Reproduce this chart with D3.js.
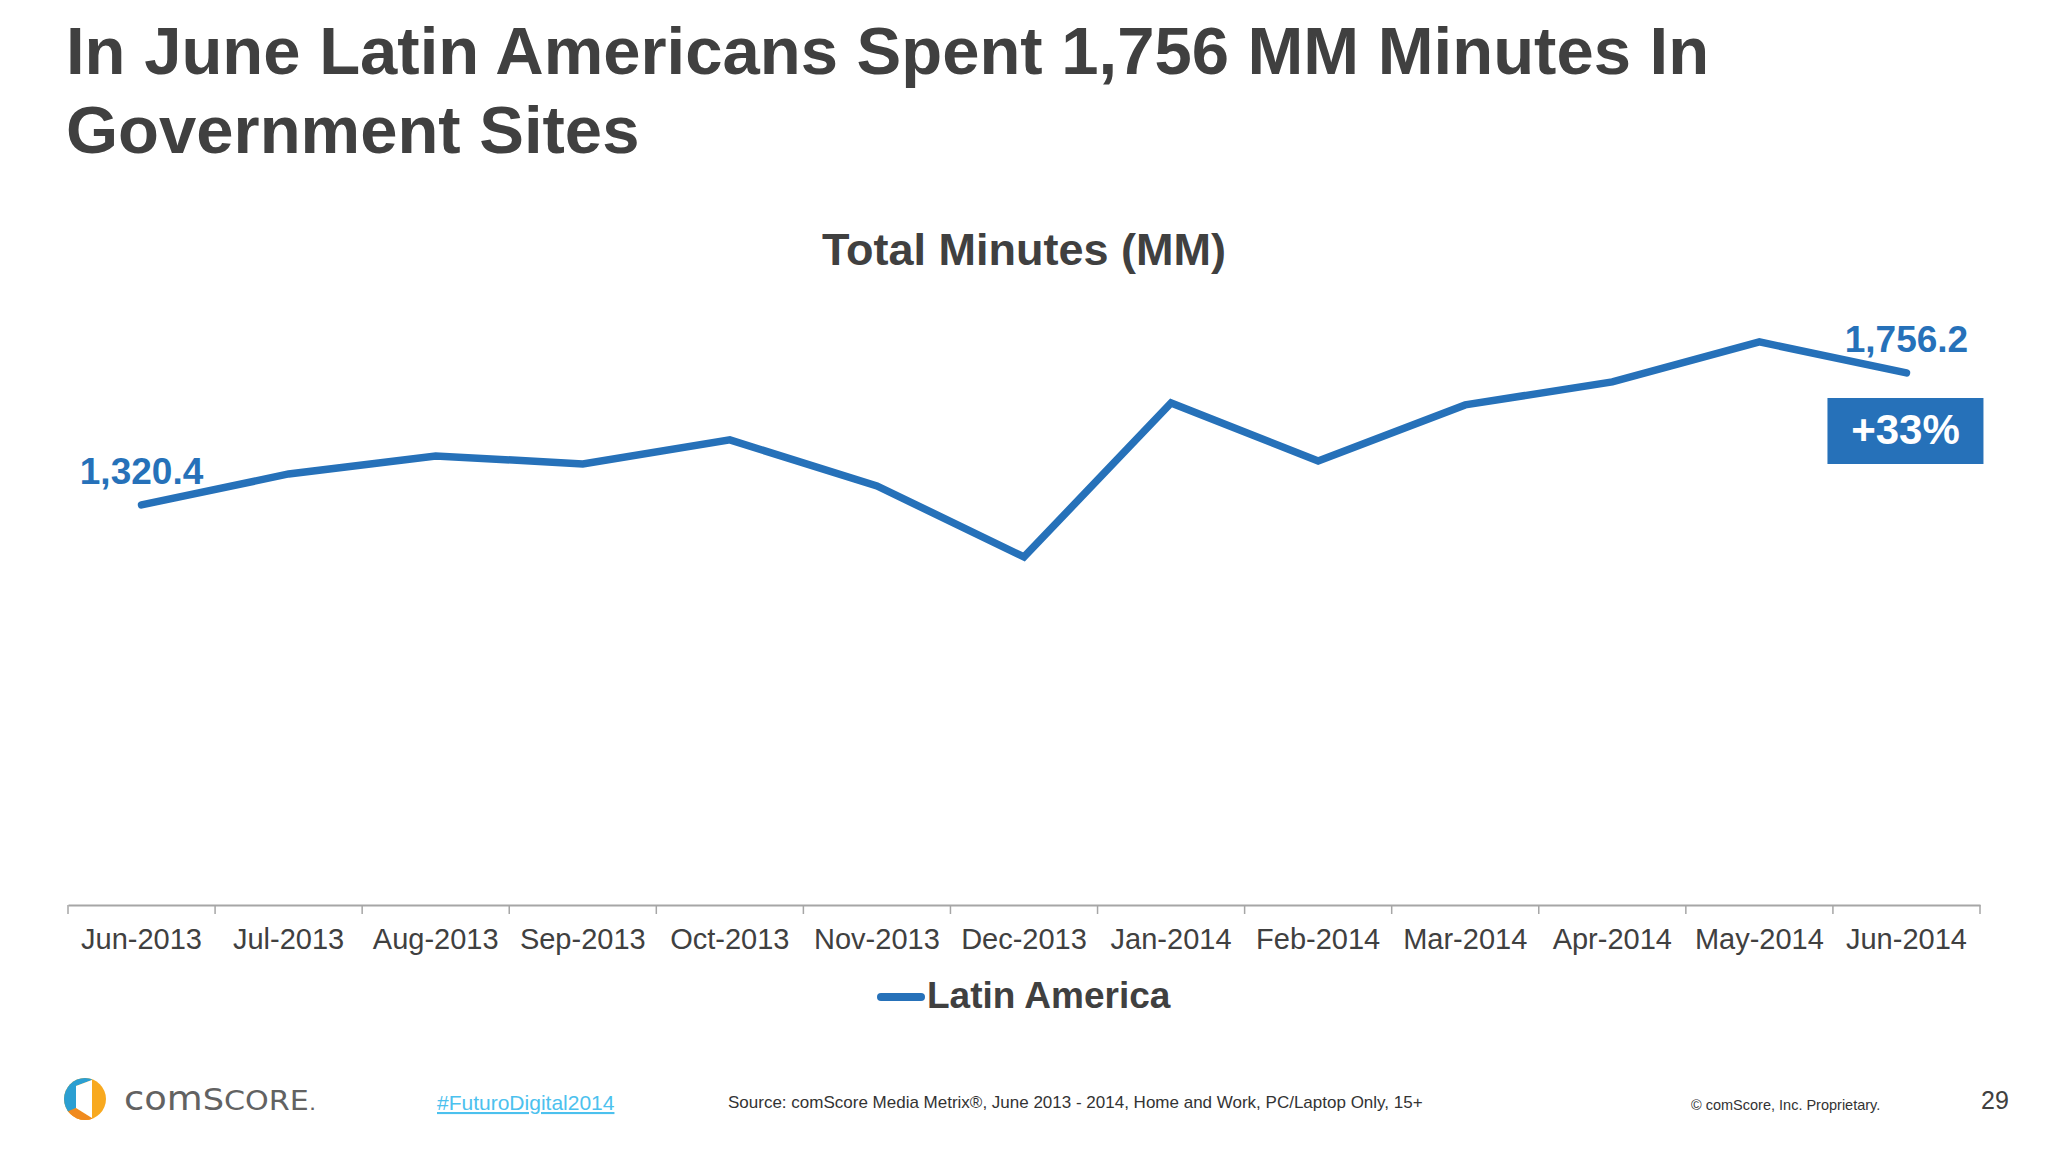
<!DOCTYPE html>
<html>
<head>
<meta charset="utf-8">
<script src="https://cdn.jsdelivr.net/npm/d3@7"></script>
<style>
  html, body { margin: 0; padding: 0; background: #ffffff; }
  svg { display: block; font-family: "Liberation Sans", Arial, sans-serif; }
</style>
</head>
<body>
<svg id="chart" width="2048" height="1152"></svg>
<script>
// ---- data ----
const categories = ["Jun-2013","Jul-2013","Aug-2013","Sep-2013","Oct-2013","Nov-2013","Dec-2013",
                    "Jan-2014","Feb-2014","Mar-2014","Apr-2014","May-2014","Jun-2014"];
const seriesName = "Latin America";
const totalMinutes = [1320.4, 1422.7, 1482.1, 1455.7, 1535.0, 1383.1, 1148.7,
                      1657.1, 1465.6, 1650.5, 1726.4, 1858.5, 1756.2];
const yDomain = [0, 2000];
const titleLines = ["In June Latin Americans Spent 1,756 MM Minutes In", "Government Sites"];
const chartTitle = "Total Minutes (MM)";
const changeLabel = "+33%";

// ---- setup ----
const svg = d3.select("#chart");
const blue = "#2671b9";
const dark = "#404040";
const font = "'Liberation Sans', Arial, sans-serif";

svg.append("rect").attr("width", 2048).attr("height", 1152).attr("fill", "#ffffff");

// Title
svg.append("g").selectAll("text").data(titleLines).join("text")
  .attr("x", 66).attr("y", (d, i) => 74 + i * 79)
  .attr("font-size", 67).attr("font-weight", "bold").attr("fill", dark)
  .text(d => d);

// Chart title
svg.append("text").attr("x", 1024).attr("y", 265).attr("text-anchor", "middle")
  .attr("font-size", 45).attr("font-weight", "bold").attr("fill", dark)
  .text(chartTitle);

// Scales
const x = d3.scaleBand().domain(categories).range([68, 1980]).padding(0);
const y = d3.scaleLinear().domain(yDomain).range([905, 299]);
const cx = d => x(d) + x.bandwidth() / 2;

// Axis
const axis = d3.axisBottom(x).tickSizeInner(0).tickSizeOuter(0).tickPadding(0);
const gAxis = svg.append("g").attr("transform", `translate(0,${y(0)})`).call(axis);
gAxis.select(".domain").attr("stroke", "#a6a6a6").attr("stroke-width", 2);
gAxis.selectAll(".tick text")
  .attr("y", 44).attr("dy", null)
  .attr("font-size", 29).attr("font-family", font).attr("fill", dark);
// boundary ticks (Excel style: between categories)
const boundaries = categories.map(c => x(c)).concat([x.range()[1]]);
gAxis.append("g").selectAll("line").data(boundaries).join("line")
  .attr("x1", d => d).attr("x2", d => d).attr("y1", 0).attr("y2", 9)
  .attr("stroke", "#a6a6a6").attr("stroke-width", 1.5);

// Line
const line = d3.line().x((d, i) => cx(categories[i])).y(d => y(d));
svg.append("path").datum(totalMinutes)
  .attr("d", line).attr("fill", "none").attr("stroke", blue)
  .attr("stroke-width", 7.5).attr("stroke-linecap", "round").attr("stroke-linejoin", "miter");

// Data labels (first and last)
const fmt = d3.format(",.1f");
const n = totalMinutes.length;
svg.append("text").attr("x", cx(categories[0])).attr("y", y(totalMinutes[0]) - 21)
  .attr("text-anchor", "middle").attr("font-size", 37).attr("font-weight", "bold").attr("fill", blue)
  .text(fmt(totalMinutes[0]));
svg.append("text").attr("x", cx(categories[n - 1])).attr("y", y(totalMinutes[n - 1]) - 21)
  .attr("text-anchor", "middle").attr("font-size", 37).attr("font-weight", "bold").attr("fill", blue)
  .text(fmt(totalMinutes[n - 1]));

// +33% box
const bx = cx(categories[n - 1]);
svg.append("rect").attr("x", bx - 79).attr("y", 398).attr("width", 156).attr("height", 66).attr("fill", blue);
svg.append("text").attr("x", bx - 1).attr("y", 444).attr("text-anchor", "middle")
  .attr("font-size", 42).attr("font-weight", "bold").attr("fill", "#ffffff")
  .text(changeLabel);

// Legend
const lg = svg.append("g");
lg.append("line").attr("x1", 881).attr("x2", 921).attr("y1", 997).attr("y2", 997)
  .attr("stroke", blue).attr("stroke-width", 8).attr("stroke-linecap", "round");
lg.append("text").attr("x", 927).attr("y", 1008)
  .attr("font-size", 37).attr("font-weight", "bold").attr("fill", dark)
  .text(seriesName);

// Footer: logo
const defs = svg.append("defs");
defs.append("clipPath").attr("id", "logoClip")
  .append("circle").attr("cx", 85).attr("cy", 1099).attr("r", 21);
const logo = svg.append("g");
logo.append("circle").attr("cx", 85).attr("cy", 1099).attr("r", 21).attr("fill", "#f8a91f");
logo.append("path").attr("clip-path", "url(#logoClip)")
  .attr("d", "M50,1110 L50,1070 L86,1070 L92,1080 L76,1086 L76,1108 L66,1114 Z")
  .attr("fill", "#2b9fd2");
logo.append("path").attr("clip-path", "url(#logoClip)")
  .attr("d", "M50,1130 L50,1106 L66,1112 L76,1108 L92,1118 L92,1130 Z")
  .attr("fill", "#f08a1e");
logo.append("path").attr("d", "M76,1086 L92,1080 L92,1118 L76,1108 Z").attr("fill", "#ffffff");
const lt = svg.append("text").attr("x", 124).attr("y", 1110).attr("fill", "#626262")
  .attr("font-family", "'DejaVu Sans', sans-serif").attr("font-weight", "normal")
  .attr("textLength", 192).attr("lengthAdjust", "spacingAndGlyphs");
lt.append("tspan").attr("font-size", 33).text("com");
lt.append("tspan").attr("font-size", 30).text("S");
lt.append("tspan").attr("font-size", 27).text("CORE");
lt.append("tspan").attr("font-size", 20).text(".");

// Footer texts
svg.append("text").attr("x", 437).attr("y", 1110).attr("font-size", 21)
  .attr("fill", "#4cc1ee").attr("text-decoration", "underline")
  .text("#FuturoDigital2014");
svg.append("text").attr("x", 728).attr("y", 1108).attr("font-size", 17).attr("fill", "#333333")
  .text("Source: comScore Media Metrix®, June 2013 - 2014, Home and Work, PC/Laptop Only, 15+");
svg.append("text").attr("x", 1691).attr("y", 1110).attr("font-size", 14.5).attr("fill", "#333333")
  .text("© comScore, Inc. Proprietary.");
svg.append("text").attr("x", 1981).attr("y", 1109).attr("font-size", 25).attr("fill", dark)
  .text("29");
</script>
</body>
</html>
